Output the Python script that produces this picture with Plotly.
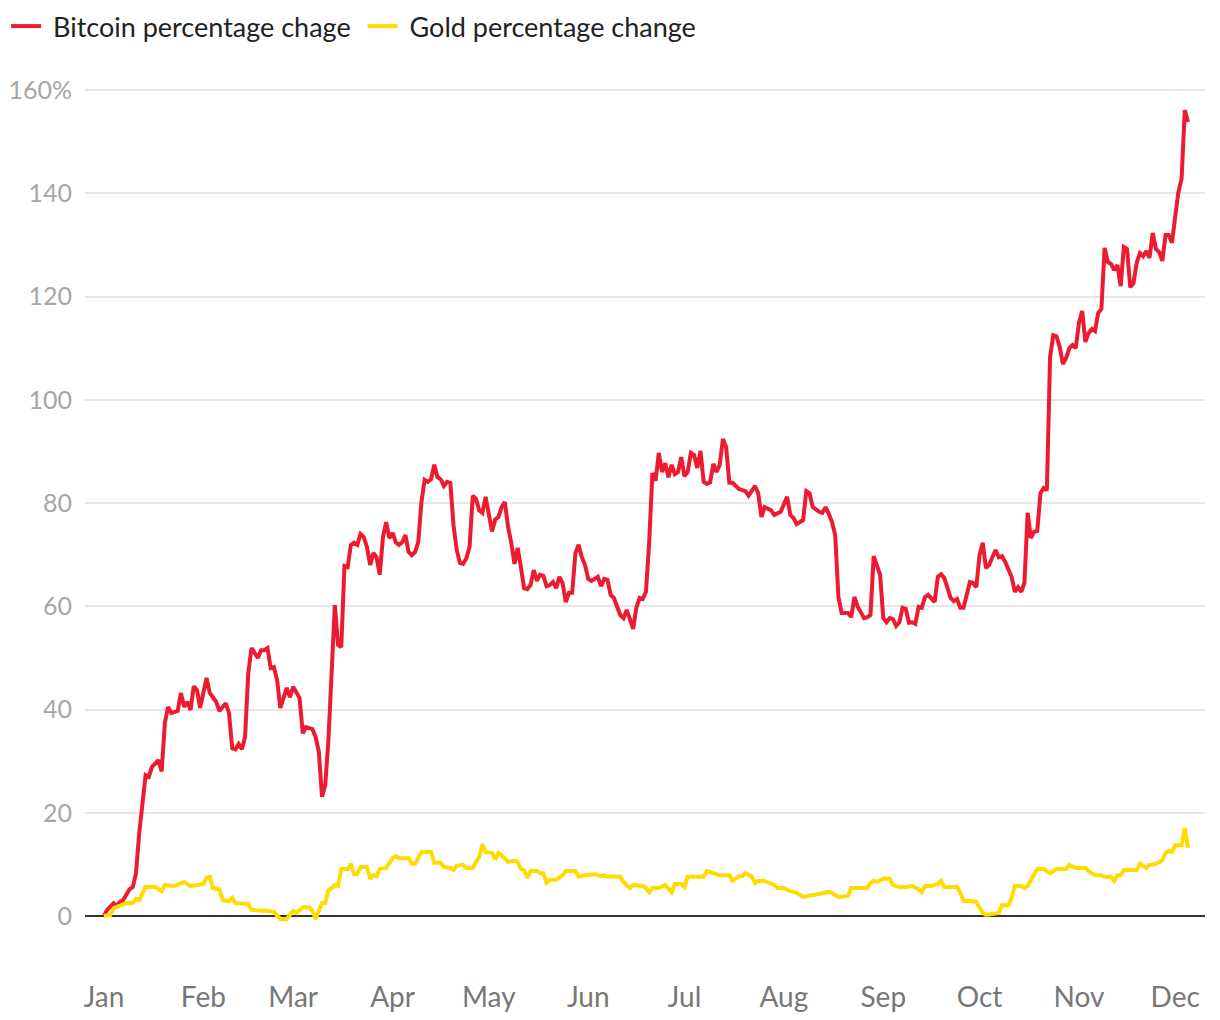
import pandas as pd
import plotly.graph_objects as go

# ---- data (day offsets from 1 Jan 2023, percentage change) ----
btc_days = [0, 1, 3, 4, 5, 6, 8, 9, 10, 11, 13, 14, 15, 17, 18, 19, 20, 21, 23, 24, 25, 26, 27, 28, 29, 30,
            32, 33, 35, 36, 38, 39, 40, 41, 42, 43, 44, 45, 46, 48, 49, 50, 51, 52, 53, 54, 55, 56, 57, 58, 59,
            61, 62, 63, 65, 66, 67, 68, 69, 70, 71, 72, 73, 74, 75, 76, 77, 78, 79, 80, 81, 82, 83, 84, 85, 86,
            87, 88, 89, 90, 91, 92, 93, 94, 95, 96, 97, 98, 99, 100, 101, 102, 103, 104, 105, 106, 107, 108,
            109, 110, 111, 112, 113, 114, 115, 116, 117, 118, 119, 120, 121, 122, 123, 124, 125, 126, 127, 128,
            129, 130, 131, 132, 133, 134, 135, 136, 137, 138, 139, 140, 141, 142, 143, 144, 145, 146, 147, 148,
            149, 150, 151, 152, 153, 154, 155, 156, 157, 158, 159, 160, 161, 162, 163, 164, 165, 166, 167, 168,
            169, 170, 171, 172, 173, 174, 175, 176, 177, 178, 179, 180, 181, 182, 183, 184, 185, 186, 187, 188,
            189, 190, 191, 192, 193, 194, 195, 196, 198, 200, 201, 203, 204, 205, 206, 208, 209, 211, 213, 214,
            215, 216, 218, 219, 220, 221, 223, 224, 225, 226, 227, 228, 229, 230, 232, 233, 234, 235, 237, 238,
            239, 240, 241, 242, 243, 244, 245, 246, 247, 248, 249, 250, 251, 252, 253, 254, 255, 256, 257, 258,
            259, 260, 261, 262, 263, 264, 265, 266, 267, 268, 269, 270, 271, 272, 273, 274, 275, 276, 277, 278,
            279, 280, 281, 282, 283, 284, 285, 286, 287, 288, 289, 290, 291, 292, 293, 294, 295, 296, 297, 298,
            299, 300, 301, 302, 303, 304, 305, 306, 307, 308, 309, 310, 311, 312, 313, 314, 315, 316, 317, 318,
            319, 320, 321, 322, 323, 324, 325, 326, 327, 328, 329, 330, 331, 332, 333, 334, 335, 336, 337, 338]
btc_pct = [0, 1.2, 2.5, 2.0, 2.7, 3.1, 5.2, 5.6, 8.3, 16, 27.3, 27, 28.9, 30.2, 28, 37.4, 40.5, 39.3, 39.7, 43.2,
           40.5, 41.5, 39.9, 44.5, 43.8, 40.3, 46.1, 43.2, 41.5, 39.7, 41.2, 39.3, 32.5, 32.3, 33.3, 32.3, 34.7,
           47, 51.9, 50, 51.5, 51.5, 51.9, 48, 48.2, 45.7, 40.3, 42.2, 44.2, 42.4, 44.4, 42.2, 35.4, 36.6, 36.2,
           34.7, 31.8, 23.1, 25.4, 34.1, 48.2, 60.2, 52.5, 52.1, 67.8, 67.6, 71.9, 72.3, 71.9, 74, 73.4, 71.5,
           68, 70.3, 69.5, 66.1, 73.4, 76.3, 73.2, 74.2, 72.4, 71.9, 72.4, 73.8, 70.5, 69.9, 70.5, 72.4, 80.2,
           84.5, 84.1, 84.6, 87.4, 85, 84.6, 83.3, 84.1, 83.9, 75.7, 70.9, 68.4, 68.2, 69.3, 71.5, 81.4, 80.8,
           78.6, 78.1, 81.2, 77.3, 74.5, 76.8, 77.3, 79.2, 80.2, 75.4, 72.3, 68.2, 71.3, 67.6, 63.5, 63.3, 64.1,
           67, 64.9, 66.1, 65.9, 63.9, 64.1, 64.7, 63.5, 65.7, 64.5, 60.8, 62.6, 62.6, 70.3, 71.9, 69.5, 68,
           65.3, 64.9, 65.2, 65.7, 63.9, 65.3, 65.1, 62.2, 61.6, 59.9, 58.3, 57.7, 59.3, 57.5, 55.6, 59.7, 61.6,
           61.4, 62.8, 72.3, 85.8, 84.3, 89.7, 86, 87.7, 85, 87.4, 85.6, 86, 88.9, 85.2, 86, 89.7, 89.3, 86.8,
           90.1, 84.1, 83.7, 84.0, 87.6, 86, 87.4, 92.4, 90.8, 83.9, 83.9, 82.7, 82.3, 81.4, 83.3, 81.9, 77.3,
           79.2, 78.6, 77.7, 78.3, 81.2, 77.7, 77.1, 75.9, 76.7, 82.3, 81.9, 79.2, 78.3, 78.1, 79.2, 77.9, 76.3,
           73.8, 61.8, 58.7, 58.7, 57.9, 61.8, 59.9, 57.7, 57.9, 58.3, 69.7, 68, 66.1, 57.7, 56.9, 57.7, 57.5,
           56.2, 56.9, 59.7, 59.5, 56.8, 56.9, 56.6, 59.9, 59.7, 61.8, 62.2, 61.4, 60.8, 65.7, 66.2, 65.5, 63.7,
           61.6, 61, 61.4, 59.7, 59.7, 62.2, 64.7, 64.5, 63.7, 69.9, 72.3, 67.4, 68, 69.5, 70.9, 69.5, 69.7,
           68.6, 67, 65.7, 62.8, 63.7, 62.8, 64.5, 78.1, 73.2, 74.4, 74.6, 81.9, 82.9, 82.5, 108.3, 112.5, 112.3,
           110.2, 106.9, 108.1, 110, 110.6, 110, 114.9, 117.2, 111.2, 112.9, 113.7, 113.3, 116.8, 117.6, 129.4,
           126.7, 126.3, 125.1, 126.1, 122, 129.6, 129.2, 121.8, 122.6, 126.5, 128.4, 127.8, 128.8, 127.5, 132.3,
           129.2, 128.6, 126.9, 131.9, 131.9, 130.4, 135.4, 140.2, 142.8, 156.1, 153.8]

gold_days = [0, 2, 3, 5, 7, 9, 10, 11, 13, 16, 18, 19, 22, 25, 27, 29, 31, 32, 33, 34, 36, 37, 39, 40, 41, 45,
             46, 49, 51, 53, 55, 57, 59, 60, 62, 64, 65, 66, 68, 69, 70, 71, 72, 73, 74, 76, 77, 78, 79, 80, 82,
             83, 84, 85, 86, 88, 90, 91, 92, 95, 96, 97, 99, 102, 103, 105, 106, 108, 109, 110, 112, 113, 115,
             116, 117, 118, 119, 121, 122, 123, 124, 126, 128, 129, 130, 131, 132, 133, 135, 136, 137, 138, 139,
             141, 143, 144, 147, 148, 150, 153, 155, 156, 157, 158, 161, 162, 164, 165, 168, 169, 170, 171, 173,
             175, 177, 178, 180, 181, 182, 187, 188, 190, 192, 195, 196, 198, 199, 200, 202, 203, 204, 206, 208,
             209, 210, 212, 214, 216, 218, 221, 224, 226, 227, 229, 232, 233, 238, 239, 240, 241, 243, 245, 246,
             248, 250, 252, 254, 255, 256, 258, 260, 261, 262, 266, 267, 268, 270, 272, 273, 274, 275, 278, 279,
             280, 282, 283, 284, 286, 287, 288, 290, 291, 293, 295, 297, 300, 301, 303, 306, 307, 309, 311, 312,
             314, 315, 316, 317, 318, 322, 323, 325, 326, 328, 330, 331, 332, 333, 334, 336, 337, 338]
gold_pct = [0, 0.2, 1.5, 2.1, 2.5, 2.5, 3.3, 3.1, 5.6, 5.6, 4.8, 6.0, 5.8, 6.6, 5.8, 6.0, 6.2, 7.4, 7.6, 5.4,
            5.2, 3.1, 2.9, 3.5, 2.5, 2.3, 1.2, 1.0, 1.0, 0.8, -0.6, -0.6, 1.0, 0.6, 1.7, 1.7, 1.0, -0.6, 2.5,
            2.5, 5.0, 5.4, 6.0, 5.8, 9.1, 9.1, 10.1, 8.1, 8.1, 9.5, 9.5, 7.2, 7.9, 7.7, 9.1, 9.3, 11.2, 11.6,
            11.2, 11.2, 10.1, 10.1, 12.4, 12.4, 10.3, 10.3, 9.5, 9.3, 8.9, 9.7, 9.9, 9.3, 9.3, 10.5, 11.4, 13.9,
            12.4, 12.2, 11.0, 12.2, 11.8, 10.5, 10.7, 10.5, 9.1, 8.9, 7.4, 8.7, 8.7, 8.3, 8.3, 6.4, 7.0, 7.0,
            7.9, 8.7, 8.7, 7.6, 7.9, 8.1, 7.7, 7.9, 7.6, 7.7, 7.6, 6.6, 5.4, 6.0, 5.8, 5.4, 4.6, 5.4, 5.4, 6.0,
            4.6, 6.2, 6.2, 5.6, 7.6, 7.6, 8.7, 8.3, 7.9, 7.9, 6.8, 7.7, 7.7, 8.3, 7.6, 6.4, 6.8, 6.8, 6.2, 6.0,
            5.4, 5.4, 4.8, 4.5, 3.7, 4.0, 4.4, 4.7, 4.5, 3.7, 3.9, 5.4, 5.4, 6.4, 6.8, 6.6, 7.2, 7.2, 6.0, 5.6,
            5.6, 5.8, 5.2, 4.6, 5.8, 5.8, 6.2, 6.8, 5.6, 5.6, 4.5, 2.9, 2.9, 2.7, 1.5, 0.6, 0.2, 0.6, 0.6, 2.1,
            2.1, 3.5, 5.8, 5.8, 5.4, 5.8, 7.9, 9.1, 9.1, 8.3, 9.1, 9.1, 9.9, 9.3, 9.3, 8.7, 7.9, 7.9, 7.6, 7.6,
            6.8, 7.9, 7.9, 8.9, 8.9, 10.1, 9.3, 9.9, 10.1, 10.8, 12.2, 12.6, 12.4, 13.7, 13.7, 17.0, 13.2]

assert len(btc_days) == len(btc_pct), (len(btc_days), len(btc_pct))
assert len(gold_days) == len(gold_pct), (len(gold_days), len(gold_pct))

month_labels = ["Jan", "Feb", "Mar", "Apr", "May", "Jun", "Jul", "Aug", "Sep", "Oct", "Nov", "Dec"]
y_ticks = [0, 20, 40, 60, 80, 100, 120, 140, 160]
y_labels = ["0", "20", "40", "60", "80", "100", "120", "140", "160%"]

start = pd.Timestamp("2023-01-01")
btc_dates = start + pd.to_timedelta(btc_days, unit="D")
gold_dates = start + pd.to_timedelta(gold_days, unit="D")
month_starts = pd.date_range("2023-01-01", periods=12, freq="MS")

FONT = "Lato, 'Open Sans', sans-serif"

fig = go.Figure()
fig.add_trace(go.Scatter(x=btc_dates, y=btc_pct, mode="lines", name=" Bitcoin percentage chage ",
                         line=dict(color="#EC1B30", width=4)))
fig.add_trace(go.Scatter(x=gold_dates, y=gold_pct, mode="lines", name=" Gold percentage change",
                         line=dict(color="#FFDC00", width=4)))

x0 = start + pd.Timedelta(days=-5.9)
x1 = start + pd.Timedelta(days=343.3)

fig.update_layout(
    width=1220, height=1020,
    margin=dict(l=85, r=15, t=70, b=70),
    paper_bgcolor="white", plot_bgcolor="white",
    font=dict(family=FONT),
    showlegend=True,
    legend=dict(orientation="h", xref="container", yref="container", x=0.005, y=0.998,
                xanchor="left", yanchor="top", font=dict(size=27, color="#222222", family=FONT),
                itemwidth=30, bgcolor="rgba(0,0,0,0)", tracegroupgap=0),
    xaxis=dict(type="date", range=[x0, x1], tickvals=month_starts, ticktext=month_labels,
               showgrid=False, zeroline=False, showline=False, automargin=False,
               ticks="outside", ticklen=22, tickcolor="rgba(0,0,0,0)",
               tickfont=dict(size=28, color="#777777", family=FONT), fixedrange=True),
    yaxis=dict(range=[(916 - 950) / 5.1625, (916 - 70) / 5.1625], tickvals=y_ticks, ticktext=y_labels,
               showgrid=True, gridcolor="#e6e6e6", gridwidth=1.5, automargin=False,
               zeroline=True, zerolinecolor="#333333", zerolinewidth=2,
               ticks="outside", ticklen=7, tickcolor="rgba(0,0,0,0)",
               tickfont=dict(size=25, color="#a6a6a6", family=FONT), fixedrange=True),
)

fig.write_html("out.html")
